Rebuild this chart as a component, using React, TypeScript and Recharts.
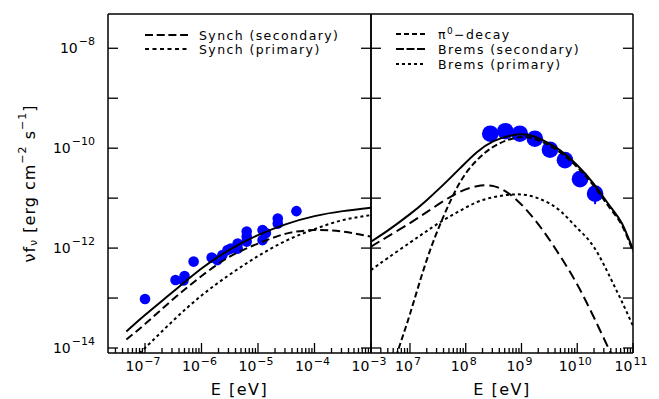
import React from "react";
import { ComposedChart, Line, Scatter, ErrorBar, XAxis, YAxis, Legend } from "recharts";

const W = 659;
const H = 399;
const FONT = '"DejaVu Sans", sans-serif';
const BLUE = "#0000ff";

// radio points (left panel)
const radioLogE = [-7.0, -6.46, -6.3, -6.32, -6.14, -5.82, -5.72, -5.63, -5.54, -5.48, -5.36, -5.36, -5.2, -5.2, -5.2, -4.92, -4.92, -4.86, -4.65, -4.65, -4.32];
const radioLogF = [-13.02, -12.64, -12.56, -12.65, -12.27, -12.19, -12.24, -12.14, -12.04, -12.01, -11.91, -12.01, -11.67, -11.77, -11.87, -11.64, -11.84, -11.7, -11.41, -11.51, -11.26];

// synchrotron curves
const synchLogE = [-7.33, -7.0, -6.5, -6.0, -5.5, -5.0, -4.5, -4.0, -3.5, -3.0];
const synchTotal = [-13.67, -13.34, -12.87, -12.41, -12.03, -11.74, -11.52, -11.36, -11.26, -11.19];
const synchSecondary = [-13.83, -13.52, -13.02, -12.56, -12.17, -11.91, -11.71, -11.64, -11.67, -11.77];
const synchPrimary = [-14.35, -14.0, -13.45, -12.95, -12.53, -12.16, -11.85, -11.62, -11.44, -11.34];

// gamma points (right panel)
const gammaLogE = [8.44, 8.71, 8.97, 9.24, 9.51, 9.78, 10.05, 10.32];
const gammaLogF = [-9.71, -9.66, -9.71, -9.81, -10.03, -10.24, -10.62, -10.91];
const gammaErrDown = [0, 0, 0, 0, 0, 0, 0, 0.21];
const gammaErrUp = [0, 0, 0, 0, 0, 0, 0, 0.15];

// gamma curves
const gammaLogE2 = [6.3, 6.6, 7.0, 7.3, 7.6, 7.9, 8.2, 8.5, 8.8, 9.1, 9.4, 9.7, 10.0, 10.3, 10.6, 10.8, 11.0];
const gammaTotal = [-11.87, -11.65, -11.32, -11.04, -10.73, -10.4, -10.08, -9.86, -9.75, -9.73, -9.85, -10.05, -10.34, -10.72, -11.18, -11.5, -12.03];
const bremsPrimary = [-12.44, -12.2, -11.89, -11.66, -11.44, -11.25, -11.08, -10.98, -10.93, -10.94, -11.05, -11.26, -11.6, -11.98, -12.61, -13.07, -13.56];
const pionLogE = [6.6, 6.8, 7.0, 7.3, 7.6, 7.9, 8.2, 8.5, 8.8, 9.1, 9.4, 9.7, 10.0, 10.3, 10.6, 10.8, 11.0];
const pionDecay = [-14.7, -14.0, -13.32, -12.24, -11.37, -10.68, -10.24, -9.97, -9.82, -9.78, -9.89, -10.09, -10.38, -10.76, -11.22, -11.54, -12.07];
const bremsSecLogE = [6.3, 6.6, 7.0, 7.3, 7.6, 7.9, 8.2, 8.5, 8.8, 9.1, 9.4, 9.7, 10.0, 10.3, 10.6];
const bremsSecondary = [-11.97, -11.77, -11.5, -11.28, -11.06, -10.87, -10.76, -10.76, -10.93, -11.25, -11.67, -12.17, -12.73, -13.39, -14.1];

// axes
const leftDecades = [-8, -7, -6, -5, -4, -3];
const rightDecades = [6, 7, 8, 9, 10, 11];
const yDecades = [-14, -13, -12, -11, -10, -9, -8];
const yLabelled = [-14, -12, -10, -8];

const leftLegend = [
  { label: "Synch (secondary)", dash: "8 3.7" },
  { label: "Synch (primary)", dash: "4 3.5" },
];
const rightLegend = [
  { label: "π0−decay", dash: "5 3" },
  { label: "Brems (secondary)", dash: "8 2.5" },
  { label: "Brems (primary)", dash: "3 3" },
];

const pts = (xs: number[], ys: number[]) => xs.map((x, i) => ({ x: 10 ** x, y: 10 ** ys[i] }));

const leftDomain = [10 ** -7.655, 1e-3];
const rightDomain = [2e6, 1e11];
const yDomain = [10 ** -14.1, 10 ** -7.314];

const decadeTicks = (decades: number[], dom: number[]) => {
  const out: number[] = [];
  decades.forEach((d) => {
    for (let k = 1; k <= 9; k++) {
      const v = k * 10 ** d;
      if (v >= dom[0] * 0.999999 && v <= dom[1] * 1.000001) out.push(v);
    }
  });
  return out;
};

const expText = (e: number) => (e < 0 ? "−" + -e : String(e));

function AxisTick(props: any) {
  const { x, y, payload, kind, labelled } = props;
  const lg = Math.log10(payload.value);
  const e = Math.round(lg);
  const major = Math.abs(lg - e) < 1e-6;
  const len = major ? 10 : 5;
  const stroke = { stroke: "#000", strokeWidth: 1.3 };
  if (kind === "bottom") {
    return (
      <g>
        <line x1={x} x2={x} y1={y} y2={y - len} {...stroke} />
        {major && labelled && (
          <text x={x - 2} y={y + 18} textAnchor="middle" fontSize={14} fontFamily={FONT}>
            10
            <tspan dx={1} dy={-6} fontSize={11}>
              {expText(e)}
            </tspan>
          </text>
        )}
      </g>
    );
  }
  if (kind === "top") return <line x1={x} x2={x} y1={y} y2={y + len} {...stroke} />;
  if (kind === "right") return <line x1={x} x2={x - 10} y1={y} y2={y} {...stroke} />;
  return (
    <g>
      <line x1={x} x2={x + 10} y1={y} y2={y} {...stroke} />
      {labelled && yLabelled.includes(e) && (
        <text x={x - 13} y={y + 5} textAnchor="end" fontSize={14} fontFamily={FONT}>
          10
          <tspan dx={1} dy={-8} fontSize={11}>
            {expText(e)}
          </tspan>
        </text>
      )}
    </g>
  );
}

function XTitle(props: any) {
  const vb = props.viewBox || { x: 0, y: 353, width: 0 };
  return (
    <text x={vb.x + vb.width / 2} y={vb.y + 42} textAnchor="middle" fontSize={16} fontFamily={FONT} letterSpacing={1.5}>
      E [eV]
    </text>
  );
}

function YTitle(props: any) {
  const vb = props.viewBox || { x: 107, y: 14, height: 339 };
  const cx = vb.x - 78;
  const cy = vb.y + vb.height / 2;
  return (
    <text transform={`translate(${cx},${cy}) rotate(-90)`} textAnchor="middle" dominantBaseline="central" fontSize={16} fontFamily={FONT} letterSpacing={1}>
      νf
      <tspan fontSize={11} dy={4}>ν</tspan>
      <tspan dy={-4}> [erg cm</tspan>
      <tspan fontSize={11} dy={-7}>−2</tspan>
      <tspan dy={7}> s</tspan>
      <tspan fontSize={11} dy={-7}>−1</tspan>
      <tspan dy={7}>]</tspan>
    </text>
  );
}

function LegendBox({ items, sample, gap, rowH }: any) {
  return (
    <div style={{ fontFamily: FONT, fontSize: 12.5, letterSpacing: 1.4, color: "#000" }}>
      {items.map((it: any) => (
        <div key={it.label} style={{ display: "flex", alignItems: "center", height: rowH, whiteSpace: "nowrap" }}>
          <svg width={sample} height={6} style={{ marginRight: gap }}>
            <line x1={0} x2={sample} y1={3} y2={3} stroke="#000" strokeWidth={2} strokeDasharray={it.dash} />
          </svg>
          {it.label.startsWith("π0") ? (
            <span>
              π<span style={{ fontSize: 9, position: "relative", top: -5 }}>0</span>
              {it.label.slice(2)}
            </span>
          ) : (
            <span>{it.label}</span>
          )}
        </div>
      ))}
    </div>
  );
}

const dot = (r: number) => (p: any) => <circle cx={p.cx} cy={p.cy} r={r} fill={BLUE} />;

const frame = { stroke: "#000", strokeWidth: 1.5 };

// axes are 1px thick (recharts skips 0-size axes), margins compensate
function Panel({ domain, decades, left, right, labelY, legend, children }: any) {
  const ticks = decadeTicks(decades, domain);
  const yTicks = yDecades.map((d) => 10 ** d);
  return (
    <div style={{ position: "absolute", left: 0, top: 0 }}>
      <ComposedChart width={W} height={H} margin={{ top: 13, left: left - 1, right: W - right - 1, bottom: H - 353 - 1 }}>
        <XAxis xAxisId="b" dataKey="x" type="number" scale="log" domain={domain} allowDataOverflow ticks={ticks} interval={0}
          height={1} tickSize={0} tickMargin={0} tickLine={false} axisLine={frame}
          tick={<AxisTick kind="bottom" labelled />} label={<XTitle />} />
        <XAxis xAxisId="t" orientation="top" type="number" scale="log" domain={domain} allowDataOverflow ticks={ticks} interval={0}
          height={1} tickSize={0} tickMargin={0} tickLine={false} axisLine={frame} tick={<AxisTick kind="top" />} />
        <YAxis yAxisId="l" dataKey="y" type="number" scale="log" domain={yDomain} allowDataOverflow ticks={yTicks} interval={0}
          width={1} tickSize={0} tickMargin={0} tickLine={false} axisLine={frame}
          tick={<AxisTick kind="left" labelled={labelY} />} label={labelY ? <YTitle /> : undefined} />
        <YAxis yAxisId="r" orientation="right" type="number" scale="log" domain={yDomain} allowDataOverflow ticks={yTicks} interval={0}
          width={1} tickSize={0} tickMargin={0} tickLine={false} axisLine={frame} tick={<AxisTick kind="right" />} />
        {children}
        <Legend layout="vertical" align="center" verticalAlign="middle" wrapperStyle={legend.pos} content={() => <LegendBox {...legend} />} />
      </ComposedChart>
    </div>
  );
}

const lineProps = { xAxisId: "b", yAxisId: "l", dataKey: "y", type: "natural" as const, dot: false, stroke: "#000", strokeWidth: 2, isAnimationActive: false, zIndex: 700 };

export default function App() {
  const gammaData = gammaLogE.map((x, i) => {
    const y = 10 ** gammaLogF[i];
    return { x: 10 ** x, y, err: [y - y * 10 ** -gammaErrDown[i], y * 10 ** gammaErrUp[i] - y] };
  });
  return (
    <div style={{ position: "absolute", left: 0, top: 0, width: W, height: H, background: "#fff" }}>
      <Panel domain={leftDomain} decades={leftDecades} left={108} right={371} labelY
        legend={{ items: leftLegend, sample: 43, gap: 11, rowH: 14, pos: { left: 145, top: 28 } }}>
        <Scatter xAxisId="b" yAxisId="l" data={pts(radioLogE, radioLogF)} shape={dot(5.3)} isAnimationActive={false} />
        <Line {...lineProps} data={pts(synchLogE, synchTotal)} />
        <Line {...lineProps} data={pts(synchLogE, synchSecondary)} strokeDasharray="8 4" />
        <Line {...lineProps} data={pts(synchLogE, synchPrimary)} strokeDasharray="3 3" />
      </Panel>
      <Panel domain={rightDomain} decades={rightDecades} left={371} right={633} labelY={false}
        legend={{ items: rightLegend, sample: 29, gap: 13, rowH: 15, pos: { left: 396, top: 26.5 } }}>
        <Scatter xAxisId="b" yAxisId="l" data={gammaData} shape={dot(8.3)} isAnimationActive={false}>
          <ErrorBar dataKey="err" direction="y" width={0} stroke={BLUE} strokeWidth={2} isAnimationActive={false} />
        </Scatter>
        <Line {...lineProps} data={pts(gammaLogE2, gammaTotal)} />
        <Line {...lineProps} data={pts(pionLogE, pionDecay)} strokeDasharray="6 3" />
        <Line {...lineProps} data={pts(bremsSecLogE, bremsSecondary)} strokeDasharray="10 5" />
        <Line {...lineProps} data={pts(gammaLogE2, bremsPrimary)} strokeDasharray="3 3" />
      </Panel>
    </div>
  );
}
